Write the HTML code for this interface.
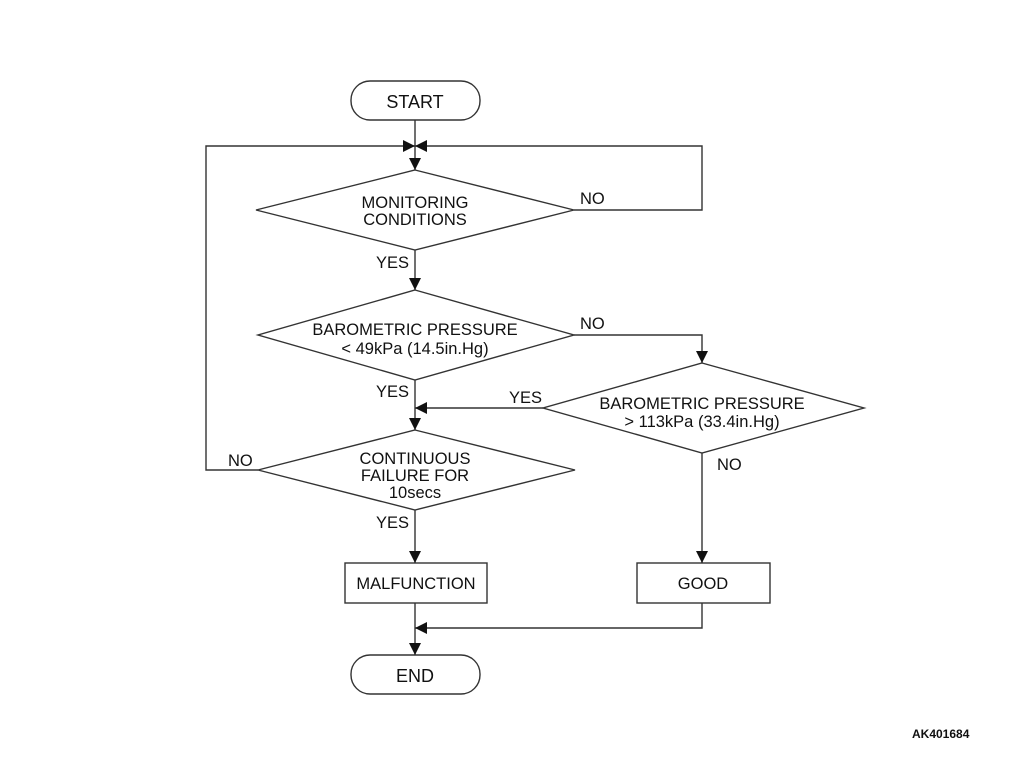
<!DOCTYPE html>
<html><head><style>
body{margin:0;background:#fff;}
svg text{font-family:"Liberation Sans",Arial,sans-serif;font-size:16.5px;fill:#111;}
</style></head><body>
<svg width="1010" height="775" viewBox="0 0 1010 775" xmlns="http://www.w3.org/2000/svg">
<defs>
<marker id="a" markerWidth="12" markerHeight="12" refX="12" refY="6" orient="auto" markerUnits="userSpaceOnUse">
<path d="M0,0 L12,6 L0,12 Z" fill="#111"/></marker>
</defs>
<g stroke="#333" stroke-width="1.4" fill="#fff">
<rect x="351" y="81" width="129" height="39" rx="19"/>
<rect x="351" y="655" width="129" height="39" rx="19"/>
<polygon points="415,170 574,210 415,250 256,210"/>
<polygon points="415,290 574,335 415,380 258,335"/>
<polygon points="702,363 864,408 702,453 543,408"/>
<polygon points="415,430 575,470 415,510 258,470"/>
<rect x="345" y="563" width="142" height="40"/>
<rect x="637" y="563" width="133" height="40"/>
</g>
<g stroke="#333" stroke-width="1.4" fill="none">
<line x1="415" y1="120" x2="415" y2="170" marker-end="url(#a)"/>
<polyline points="258,470 206,470 206,146 415,146" marker-end="url(#a)"/>
<polyline points="574,210 702,210 702,146 415,146" marker-end="url(#a)"/>
<line x1="415" y1="250" x2="415" y2="290" marker-end="url(#a)"/>
<line x1="415" y1="380" x2="415" y2="430" marker-end="url(#a)"/>
<polyline points="574,335 702,335 702,363" marker-end="url(#a)"/>
<line x1="543" y1="408" x2="415" y2="408" marker-end="url(#a)"/>
<line x1="702" y1="453" x2="702" y2="563" marker-end="url(#a)"/>
<line x1="415" y1="510" x2="415" y2="563" marker-end="url(#a)"/>
<line x1="415" y1="603" x2="415" y2="655" marker-end="url(#a)"/>
<polyline points="702,603 702,628 415,628" marker-end="url(#a)"/>
</g>
<g text-anchor="middle">
<text x="415" y="108" style="font-size:18px">START</text>
<text x="415" y="682" style="font-size:18px">END</text>
<text x="415" y="208">MONITORING</text>
<text x="415" y="225">CONDITIONS</text>
<text x="415" y="335">BAROMETRIC PRESSURE</text>
<text x="415" y="354">&lt; 49kPa (14.5in.Hg)</text>
<text x="702" y="409">BAROMETRIC PRESSURE</text>
<text x="702" y="427">&gt; 113kPa (33.4in.Hg)</text>
<text x="415" y="464">CONTINUOUS</text>
<text x="415" y="481">FAILURE FOR</text>
<text x="415" y="498">10secs</text>
<text x="416" y="589">MALFUNCTION</text>
<text x="703" y="589">GOOD</text>
</g>
<text x="580" y="204">NO</text>
<text x="376" y="268">YES</text>
<text x="580" y="329">NO</text>
<text x="376" y="397">YES</text>
<text x="509" y="403">YES</text>
<text x="228" y="466">NO</text>
<text x="717" y="470">NO</text>
<text x="376" y="528">YES</text>
<text x="912" y="738" style="font-size:12px;font-weight:bold">AK401684</text>
</svg>
</body></html>
